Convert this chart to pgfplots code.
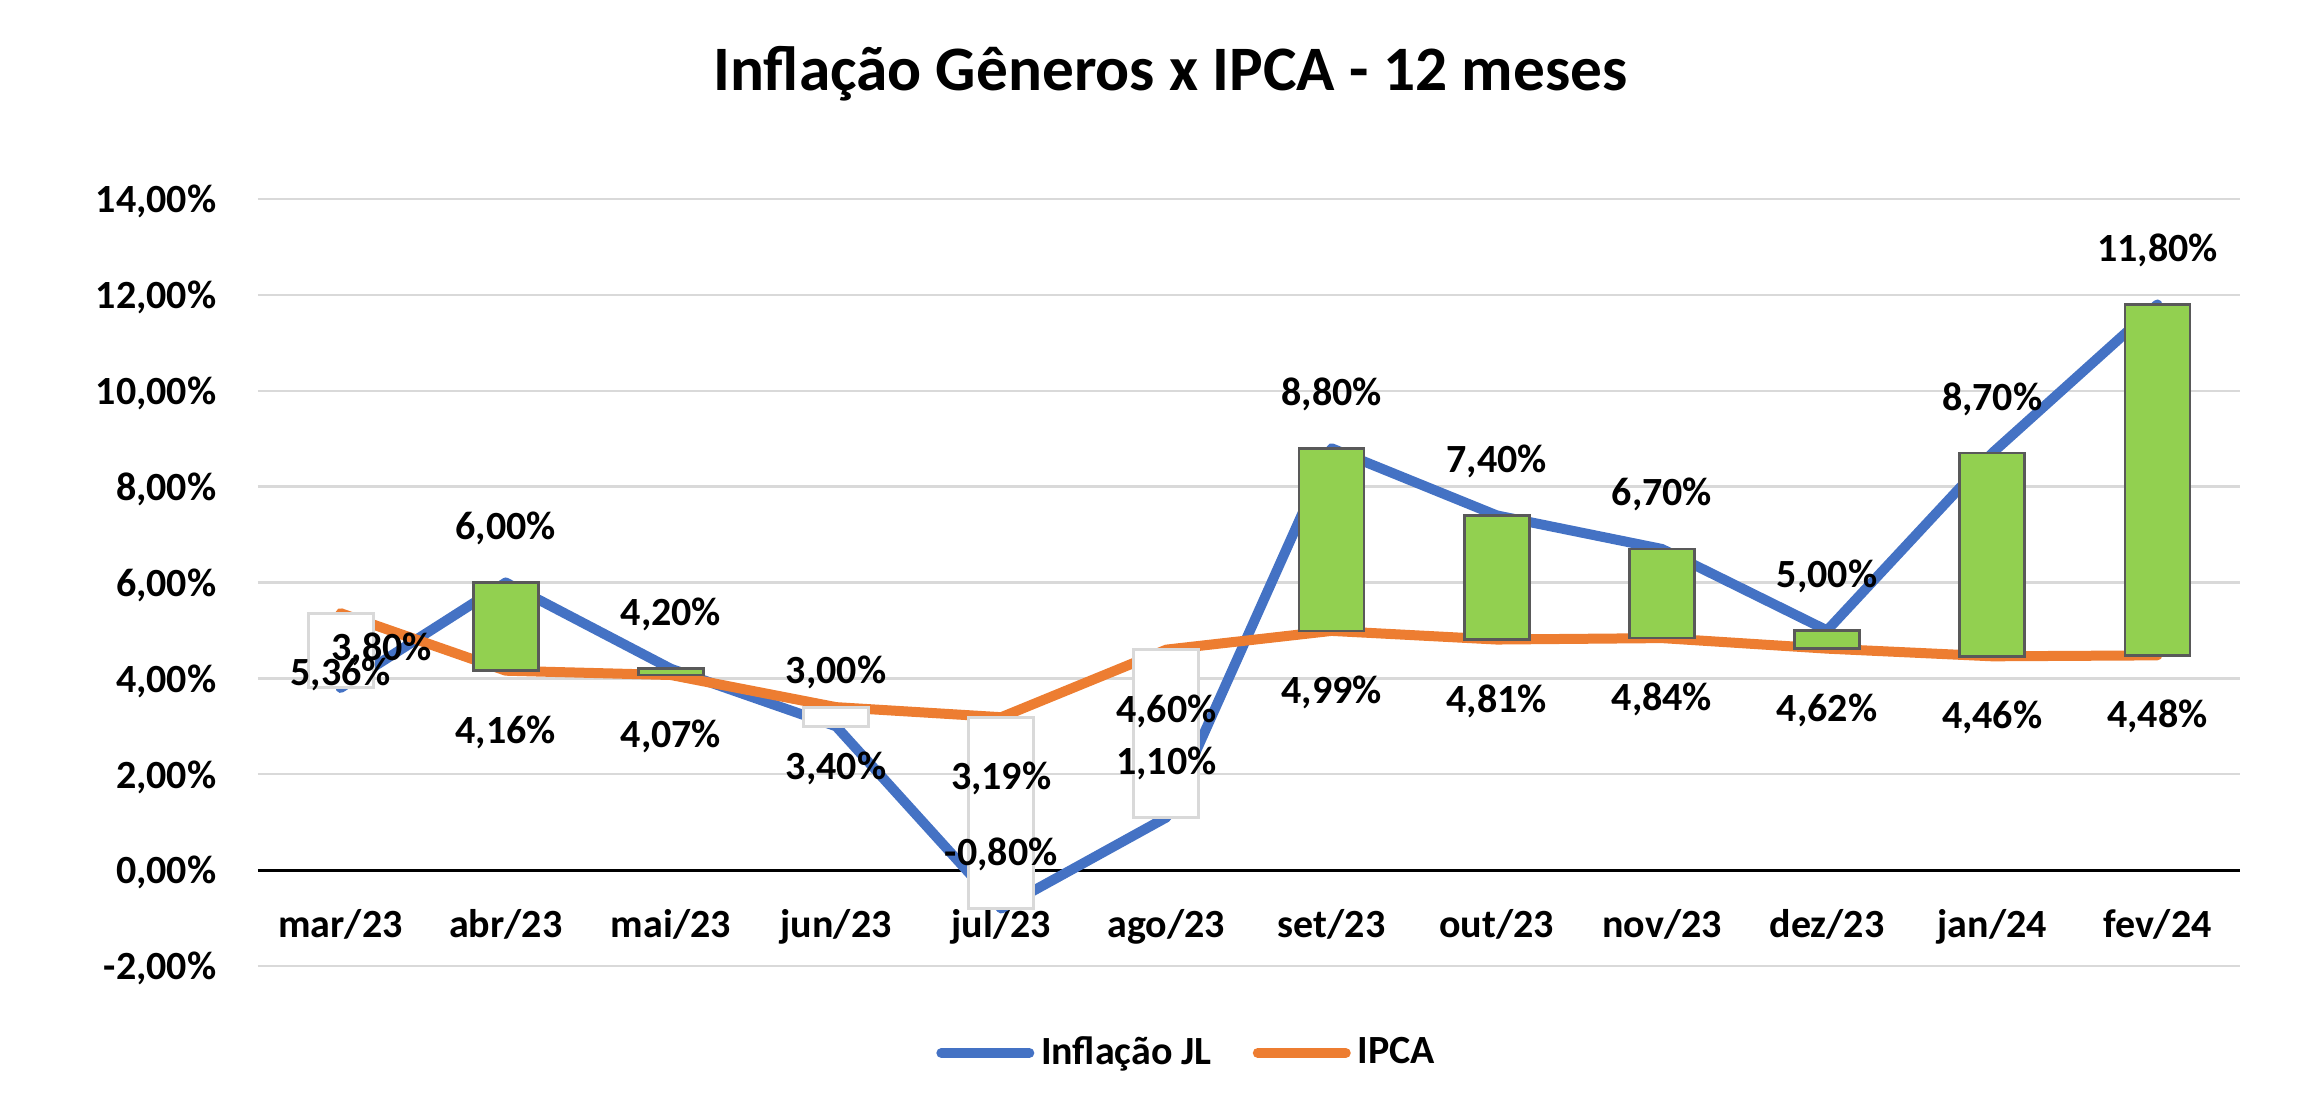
\documentclass[border=0pt]{standalone}
\usepackage{pgfplots}
\pgfplotsset{compat=1.18}
\usepackage{pgfplotstable}
\usepackage{fontspec}
\setmainfont{Carlito}
\definecolor{jl}{HTML}{4472C4}
\definecolor{ipca}{HTML}{ED7D31}
\definecolor{upg}{HTML}{92D050}
\definecolor{upb}{HTML}{595959}
\definecolor{grd}{HTML}{D9D9D9}
\newcommand\lblfont{\bfseries\fontsize{12}{14}\selectfont}

\pgfplotstableread{
x jl ipca
0 3.80 5.36
1 6.00 4.16
2 4.20 4.07
3 3.00 3.40
4 -0.80 3.19
5 1.10 4.60
6 8.80 4.99
7 7.40 4.81
8 6.70 4.84
9 5.00 4.62
10 8.70 4.46
11 11.80 4.48
}\data

\pgfplotstableread{
x lo hi
1 4.16 6.00
2 4.07 4.20
6 4.99 8.80
7 4.81 7.40
8 4.84 6.70
9 4.62 5.00
10 4.46 8.70
11 4.48 11.80
}\up

\pgfplotstableread{
x lo hi
0 3.80 5.36
3 3.00 3.40
4 -0.80 3.19
5 1.10 4.60
}\down

\pgfplotsset{
  base/.style={scale only axis, width=594.6pt, height=230.1pt,
    xmin=-0.5, xmax=11.5, ymin=-2, ymax=14, clip=false},
  % bar axes: y shifted by +2 so that every stacked segment is positive
  barax/.style={scale only axis, width=594.6pt, height=230.1pt,
    xmin=-0.5, xmax=11.5, ymin=0, ymax=16, clip=false, hide axis,
    ybar stacked, bar width=19.5pt}
}

\begin{document}
\begin{tikzpicture}
\path[use as bounding box] (-77.4pt,-42.3pt) rectangle (619.8pt,289.8pt);

% axis 1: grid, ticks, lines, legend, title
\begin{axis}[base,
  axis line style={draw=none},
  major tick length=0pt,
  ytick={-2,0,...,14},
  yticklabels={{-2,00\%},{0,00\%},{2,00\%},{4,00\%},{6,00\%},{8,00\%},{10,00\%},{12,00\%},{14,00\%}},
  xtick={0,...,11},
  xticklabels={mar/23,abr/23,mai/23,jun/23,jul/23,ago/23,set/23,out/23,nov/23,dez/23,jan/24,fev/24},
  ymajorgrids, grid style={grd, line width=0.75pt},
  extra y ticks={0}, extra y tick labels={},
  extra y tick style={grid=major, major grid style={black, line width=0.9pt}},
  yticklabel style={font=\lblfont, anchor=east, inner sep=0pt, xshift=-12.3pt, yshift=-0.8pt},
  xticklabel style={font=\lblfont, anchor=base, inner sep=0pt, yshift=8.5pt},
  title={Inflação Gêneros x IPCA - 12 meses},
  title style={at={(axis description cs:0.4604,1)}, anchor=base, yshift=26.6pt,
    inner sep=0pt, font=\bfseries\fontsize{19}{23}\selectfont},
  legend columns=2,
  legend image code/.code={\draw[#1, line cap=round] (0pt,0pt) -- (26.4pt,0pt);},
  legend style={at={(axis description cs:0.468,-0.1134)}, anchor=center,
    draw=none, fill=none, inner sep=0pt, font=\lblfont,
    nodes={inner sep=0pt},
    /tikz/every even column/.append style={column sep=12.3pt},
    /tikz/every odd column/.append style={column sep=2pt}},
]
\addplot[jl, line width=3pt, line cap=round, line join=round] table[x=x,y=jl]{\data};
\addlegendentry{Inflação JL}
\addplot[ipca, line width=3pt, line cap=round, line join=round] table[x=x,y=ipca]{\data};
\addlegendentry{IPCA}
\end{axis}

% axis 2: up bars (green)
\begin{axis}[barax]
\addplot[draw=none, fill=none] table[x=x, y expr=\thisrow{lo}+2]{\up};
\addplot[fill=upg, draw=upb, line width=0.8pt] table[x=x, y expr=\thisrow{hi}-\thisrow{lo}]{\up};
\end{axis}

% axis 3: down bars (white)
\begin{axis}[barax]
\addplot[draw=none, fill=none] table[x=x, y expr=\thisrow{lo}+2]{\down};
\addplot[fill=white, draw=grd, line width=0.9pt] table[x=x, y expr=\thisrow{hi}-\thisrow{lo}]{\down};
\end{axis}

% axis 4: data labels
\begin{axis}[base, hide axis,
  point meta=y,
  nodes near coords={\pgfmathprintnumber[fixed, fixed zerofill, precision=2, use comma, assume math mode=true]{\pgfplotspointmeta}\%},
  every node near coord/.append style={font=\lblfont, inner sep=0pt, anchor=base, text=black}]
\addplot[draw=none, mark=none, skip coords between index={0}{1},
  every node near coord/.append style={yshift=12.9pt}] table[x=x,y=jl]{\data};
\addplot[draw=none, mark=none, skip coords between index={1}{12},
  every node near coord/.append style={yshift=8.25pt, xshift=12.3pt}] table[x=x,y=jl]{\data};
\addplot[draw=none, mark=none,
  every node near coord/.append style={yshift=-21.75pt}] table[x=x,y=ipca]{\data};
\end{axis}
\end{tikzpicture}
\end{document}
